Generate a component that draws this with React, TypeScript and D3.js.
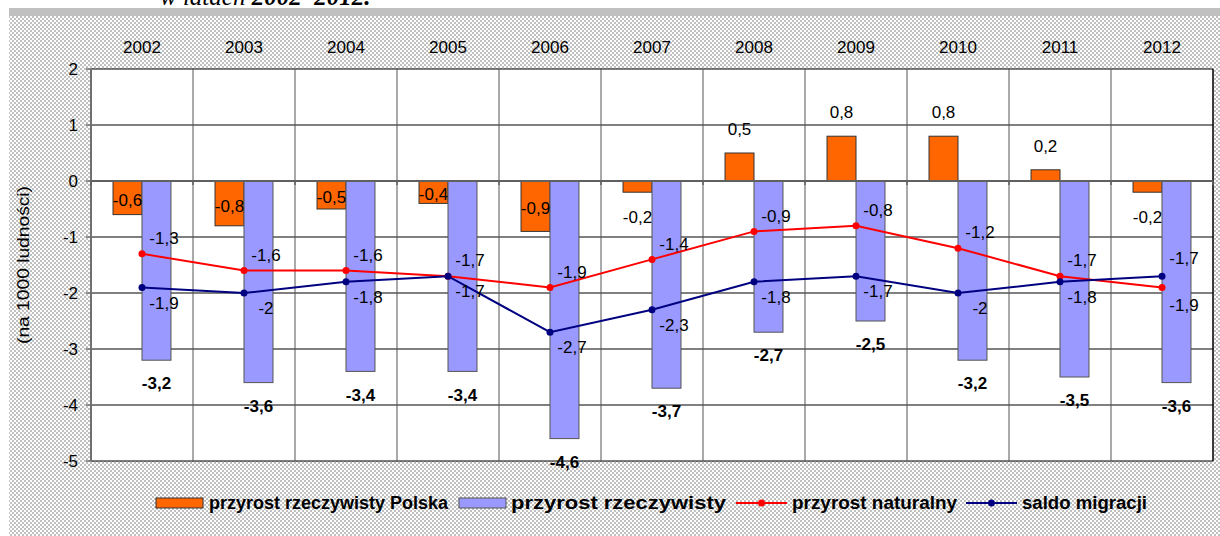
import React from "react";
import * as d3 from "d3";

const years = ["2002", "2003", "2004", "2005", "2006", "2007", "2008", "2009", "2010", "2011", "2012"];
const przyrostPolska = [-0.6, -0.8, -0.5, -0.4, -0.9, -0.2, 0.5, 0.8, 0.8, 0.2, -0.2];
const przyrostRzeczywisty = [-3.2, -3.6, -3.4, -3.4, -4.6, -3.7, -2.7, -2.5, -3.2, -3.5, -3.6];
const przyrostNaturalny = [-1.3, -1.6, -1.6, -1.7, -1.9, -1.4, -0.9, -0.8, -1.2, -1.7, -1.9];
const saldoMigracji = [-1.9, -2.0, -1.8, -1.7, -2.7, -2.3, -1.8, -1.7, -2.0, -1.8, -1.7];
const yTicks = [2, 1, 0, -1, -2, -3, -4, -5];
const legendLabels = [
  "przyrost rzeczywisty Polska",
  "przyrost rzeczywisty",
  "przyrost naturalny",
  "saldo migracji",
];

const W = 1220;
const H = 536;
const plot = { left: 91, right: 1213, top: 69, bottom: 461 };
const sans = "'Liberation Sans', Arial, sans-serif";
const fmt = (v: number) => String(v).replace(".", ",");

const ORANGE = "#ff6600";
const LILAC = "#9999ff";
const RED = "#ff0000";
const NAVY = "#000080";

// legend layout: where each key starts and how wide its text runs
const legendLayout = [
  { kind: "bar", x: 156, tx: 209, tw: 239, fill: ORANGE, stroke: "#333" },
  { kind: "bar", x: 459, tx: 511, tw: 215, fill: LILAC, stroke: "#555" },
  { kind: "line", x: 736, tx: 792, tw: 165, fill: RED, stroke: RED },
  { kind: "line", x: 966, tx: 1022, tw: 125, fill: NAVY, stroke: NAVY },
];

export default function App() {
  const x = d3.scaleBand<string>().domain(years).range([plot.left, plot.right]);
  const xs = d3
    .scaleBand<string>()
    .domain(["polska", "rzecz"])
    .range([0, x.bandwidth()])
    .paddingOuter(0.76);
  const y = d3.scaleLinear().domain([-5, 2]).range([plot.bottom, plot.top]);
  const cx = (i: number) => (x(years[i]) as number) + x.bandwidth() / 2;

  const line = d3
    .line<number>()
    .x((_, i) => cx(i))
    .y((d) => y(d));

  // boundaries between categories
  const bounds = d3.range(1, years.length).map((i) => plot.left + i * x.step());

  return (
    <svg
      width={W}
      height={H}
      style={{ position: "absolute", left: 0, top: 0, display: "block" }}
      fontFamily={sans}
    >
      <defs>
        <pattern id="checker" width={4} height={4} patternUnits="userSpaceOnUse">
          <rect width={4} height={4} fill="#ffffff" />
          <rect width={2} height={2} fill="#c0c0c0" />
          <rect x={2} y={2} width={2} height={2} fill="#c0c0c0" />
        </pattern>
      </defs>
      <rect width={W} height={H} fill="#fff" />
      {/* header band + title remnant (cut at the top, as in the source) */}
      <text
        x={160}
        y={5}
        fontFamily="'Liberation Serif', 'Times New Roman', serif"
        fontStyle="italic"
        fontSize={25}
      >
        w latach <tspan fontWeight="bold">2002–2012.</tspan>
      </text>
      <rect x={9} y={8} width={W - 9} height={8} fill="#c0c0c0" />
      <rect x={9} y={16} width={W - 9} height={H - 16} fill="url(#checker)" />

      {/* plot area */}
      <rect
        x={plot.left}
        y={plot.top}
        width={plot.right - plot.left}
        height={plot.bottom - plot.top}
        fill="#fff"
      />
      {yTicks.map((t) => (
        <line
          key={"h" + t}
          x1={plot.left}
          x2={plot.right}
          y1={y(t)}
          y2={y(t)}
          stroke="#000"
          strokeWidth={1}
        />
      ))}
      {bounds.map((b) => (
        <line key={"v" + b} x1={b} x2={b} y1={plot.top} y2={plot.bottom} stroke="#555" strokeWidth={1} />
      ))}
      <line x1={plot.right} x2={plot.right} y1={plot.top} y2={plot.bottom} stroke="#000" strokeWidth={1.5} />

      {/* y axis */}
      <line x1={plot.left} x2={plot.left} y1={plot.top} y2={plot.bottom} stroke="#707070" strokeWidth={2} />
      {yTicks.map((t) => (
        <g key={"yt" + t}>
          <line x1={plot.left - 5} x2={plot.left} y1={y(t)} y2={y(t)} stroke="#707070" strokeWidth={1.5} />
          <text x={78} y={y(t)} dy="0.36em" textAnchor="end" fontSize={17}>
            {fmt(t)}
          </text>
        </g>
      ))}
      <text
        transform={`translate(29,${(plot.top + plot.bottom) / 2}) rotate(-90)`}
        textAnchor="middle"
        fontSize={16}
        textLength={158}
        lengthAdjust="spacingAndGlyphs"
      >
        (na 1000 ludności)
      </text>

      {/* year labels */}
      {years.map((yr, i) => (
        <text key={yr} x={cx(i)} y={53} textAnchor="middle" fontSize={17}>
          {yr}
        </text>
      ))}

      {/* bars */}
      {years.map((yr, i) => {
        const v = przyrostPolska[i];
        const bx = (x(yr) as number) + (xs("polska") as number);
        return (
          <rect
            key={"p" + yr}
            x={bx}
            y={y(Math.max(0, v))}
            width={xs.bandwidth()}
            height={Math.abs(y(v) - y(0))}
            fill={ORANGE}
            stroke="#333"
            strokeWidth={1}
          />
        );
      })}
      {years.map((yr, i) => {
        const v = przyrostRzeczywisty[i];
        const bx = (x(yr) as number) + (xs("rzecz") as number);
        return (
          <rect
            key={"r" + yr}
            x={bx}
            y={y(Math.max(0, v))}
            width={xs.bandwidth()}
            height={Math.abs(y(v) - y(0))}
            fill={LILAC}
            stroke="#555"
            strokeWidth={1}
          />
        );
      })}

      {/* zero axis */}
      <line x1={plot.left} x2={plot.right} y1={y(0)} y2={y(0)} stroke="#606060" strokeWidth={2} />
      {[plot.left, ...bounds, plot.right].map((b) => (
        <line key={"xt" + b} x1={b} x2={b} y1={y(0)} y2={y(0) + 4} stroke="#606060" strokeWidth={1.5} />
      ))}

      {/* lines */}
      <path d={line(przyrostNaturalny) as string} fill="none" stroke={RED} strokeWidth={2} />
      <path d={line(saldoMigracji) as string} fill="none" stroke={NAVY} strokeWidth={2} />
      {przyrostNaturalny.map((v, i) => (
        <circle key={"nc" + i} cx={cx(i)} cy={y(v)} r={3.5} fill={RED} />
      ))}
      {saldoMigracji.map((v, i) => (
        <circle key={"sc" + i} cx={cx(i)} cy={y(v)} r={3.5} fill={NAVY} />
      ))}

      {/* value labels */}
      <g fontSize={17}>
        {przyrostPolska.map((v, i) => {
          const lx = (x(years[i]) as number) + (xs("polska") as number) + xs.bandwidth() / 2;
          const ly = v >= 0 ? y(v) - 24 : v > -0.3 ? y(v) + 25 : y(v / 2) + 2;
          return (
            <text key={"pl" + i} x={lx} y={ly} dy="0.36em" textAnchor="middle">
              {fmt(v)}
            </text>
          );
        })}
        {przyrostNaturalny.map((v, i) => {
          const above = v >= saldoMigracji[i];
          return (
            <text key={"nl" + i} x={cx(i) + 22} y={y(v) + (above ? -16 : 17)} dy="0.36em" textAnchor="middle">
              {fmt(v)}
            </text>
          );
        })}
        {saldoMigracji.map((v, i) => {
          const above = v > przyrostNaturalny[i];
          return (
            <text key={"sl" + i} x={cx(i) + 22} y={y(v) + (above ? -18 : 15)} dy="0.36em" textAnchor="middle">
              {fmt(v)}
            </text>
          );
        })}
        {przyrostRzeczywisty.map((v, i) => {
          const lx = (x(years[i]) as number) + (xs("rzecz") as number) + xs.bandwidth() / 2;
          return (
            <text key={"rl" + i} x={lx} y={y(v) + 23} dy="0.36em" textAnchor="middle" fontWeight="bold">
              {fmt(v)}
            </text>
          );
        })}
      </g>

      {/* legend */}
      <g fontSize={18} fontWeight="bold">
        {legendLayout.map((it, i) => (
          <g key={"lg" + i}>
            {it.kind === "bar" ? (
              <rect x={it.x} y={498} width={47} height={10} fill={it.fill} stroke={it.stroke} strokeWidth={1} />
            ) : (
              <>
                <line x1={it.x} x2={it.x + 51} y1={503} y2={503} stroke={it.stroke} strokeWidth={2} />
                <circle cx={it.x + 25.5} cy={503} r={3.5} fill={it.fill} />
              </>
            )}
            <text x={it.tx} y={509} textLength={it.tw} lengthAdjust="spacingAndGlyphs">
              {legendLabels[i]}
            </text>
          </g>
        ))}
      </g>
    </svg>
  );
}
